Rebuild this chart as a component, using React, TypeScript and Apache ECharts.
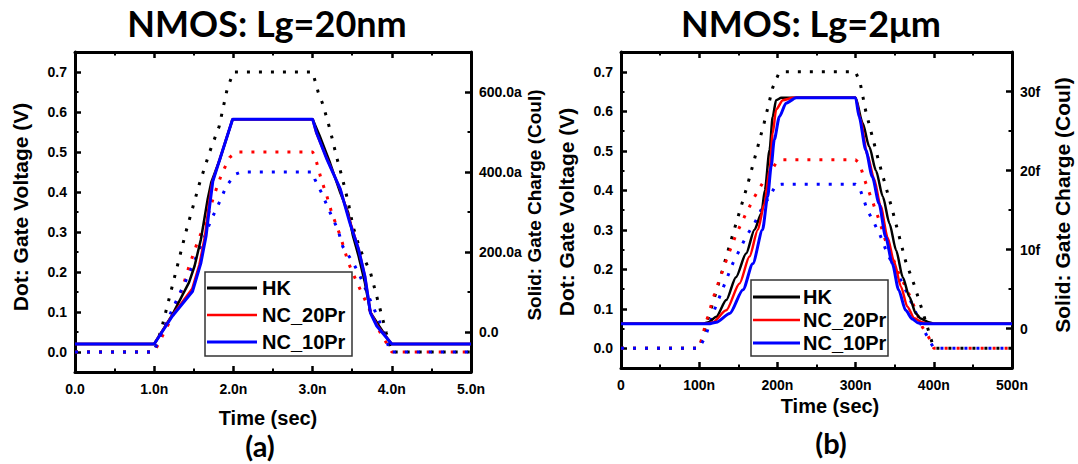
import React, { useEffect, useRef } from "react";
import * as echarts from "echarts";

// ---------- (a) NMOS Lg=20nm : time in ns ----------
const A_HK_V_t = [0, 1.0, 1.1, 1.4, 1.57, 1.7, 1.82, 1.92, 2.0, 3.0, 3.07, 3.13, 3.22, 3.3, 3.38, 3.45, 3.51, 3.6, 3.73, 3.83, 3.93, 4.0, 5.0];
const A_HK_V = [0, 0, 0.064, 0.3, 0.42, 0.5, 0.564, 0.656, 0.7, 0.7, 0.65, 0.619, 0.556, 0.49, 0.431, 0.374, 0.314, 0.256, 0.199, 0.124, 0.048, 0, 0];
const A_NC20_V_t = [0, 1.0, 1.23, 1.35, 1.44, 1.545, 1.66, 1.76, 1.85, 1.95, 2.04, 3.0, 3.03, 3.11, 3.18, 3.24, 3.35, 3.45, 3.56, 3.7, 3.85, 4.0, 5.0];
const A_NC20_V = [0, 0, 0.089, 0.156, 0.214, 0.274, 0.33, 0.394, 0.444, 0.486, 0.5, 0.5, 0.489, 0.431, 0.39, 0.349, 0.29, 0.224, 0.174, 0.114, 0.05, 0, 0];
const A_NC10_V_t = [0, 1.0, 1.04, 1.27, 1.45, 1.6, 1.72, 1.8, 1.91, 2.02, 2.1, 3.0, 3.03, 3.11, 3.24, 3.32, 3.38, 3.51, 3.6, 3.75, 3.9, 3.98, 5.0];
const A_NC10_V = [0, 0, 0.024, 0.124, 0.2, 0.27, 0.331, 0.364, 0.414, 0.444, 0.45, 0.45, 0.431, 0.399, 0.34, 0.306, 0.264, 0.224, 0.189, 0.12, 0.05, 0, 0];

const A_HK_Q_t = [0, 1.0, 1.22, 1.44, 1.51, 1.59, 1.675, 1.72, 1.83, 1.99, 3.0, 3.09, 3.22, 3.35, 3.45, 3.51, 3.58, 3.66, 3.73, 3.84, 3.99, 5.0];
const A_HK_Q = [-30, -30, 40, 124, 165, 232, 332, 374, 432, 532, 532, 490, 423, 348, 298, 240, 190, 124, 49, 15, -30, -30];
const A_NC20_Q_t = [0, 1.0, 1.23, 1.48, 1.57, 1.64, 1.69, 1.73, 1.99, 3.0, 3.05, 3.18, 3.35, 3.47, 3.58, 3.66, 3.73, 3.82, 4.0, 5.0];
const A_NC20_Q = [-30, -30, 42, 108, 168, 238, 318, 372, 532, 532, 496, 434, 356, 278, 208, 140, 50, 15, -30, -30];
const A_NC10_Q_t = [0, 1.0, 1.23, 1.485, 1.59, 1.655, 1.7, 1.74, 1.99, 3.0, 3.05, 3.18, 3.35, 3.47, 3.58, 3.66, 3.73, 3.81, 4.0, 5.0];
const A_NC10_Q = [-30, -30, 40, 102, 173, 240, 315, 377, 532, 532, 498, 432, 357, 273, 207, 140, 48, 15, -30, -30];

// ---------- (b) NMOS Lg=2um : time in ns ----------
const B_HK_V_t = [0, 100, 122, 141, 162, 183, 194, 202, 210, 300, 306, 313, 330, 347, 364, 375, 387, 400, 500];
const B_HK_V = [0, 0, 0.145, 0.275, 0.415, 0.57, 0.66, 0.697, 0.7, 0.7, 0.67, 0.6, 0.47, 0.35, 0.22, 0.16, 0.085, 0, 0];
const B_NC20_V_t = [0, 100, 108, 120, 137, 147, 160, 171, 181, 190, 198, 206, 300, 305, 313, 321, 330, 338, 347, 355, 366, 376, 385, 393, 400, 500];
const B_NC20_V = [0, 0, 0.06, 0.14, 0.236, 0.287, 0.342, 0.384, 0.418, 0.443, 0.468, 0.477, 0.477, 0.468, 0.418, 0.375, 0.325, 0.274, 0.232, 0.19, 0.148, 0.1, 0.055, 0.03, 0, 0];
const B_NC10_V_t = [0, 100, 108, 120, 134.6, 143, 151.6, 160, 170.7, 181, 190, 198, 205, 300, 304.5, 309, 315, 324, 332, 340.5, 349, 357.6, 366, 376, 386, 400, 500];
const B_NC10_V = [0, 0, 0.03, 0.1, 0.173, 0.215, 0.249, 0.283, 0.316, 0.358, 0.384, 0.413, 0.415, 0.415, 0.409, 0.384, 0.35, 0.316, 0.283, 0.24, 0.207, 0.173, 0.139, 0.095, 0.05, 0, 0];

const B_HK_Q_t = [0, 105, 112, 122, 134.6, 147, 160, 170.7, 179.6, 184, 190, 194, 198.3, 205, 300, 309, 317.5, 326, 334.8, 343.3, 351.8, 360.3, 368.8, 377, 383, 393.6, 400, 500];
const B_HK_Q = [0.6, 0.6, 0.8, 1.5, 3.6, 6.5, 9.5, 12.5, 14.6, 17.5, 22.6, 26.8, 28.9, 29.2, 29.2, 26, 23, 20, 16.7, 13.3, 9.9, 6.5, 4.0, 1.9, 1.27, 0.8, 0.6, 0.6];
const B_NC20_Q_t = [0, 110, 117.6, 134.6, 151.6, 164.3, 175, 183.4, 190, 194, 198.3, 207, 220, 300, 306, 315, 323.5, 332, 341, 349, 358, 366, 375, 385, 392, 500];
const B_NC20_Q = [0.6, 0.6, 0.8, 2.3, 5.7, 9.1, 12.5, 15.8, 20, 24.7, 27.7, 28.9, 29.2, 29.2, 26.5, 22, 19, 15.5, 11.5, 8.5, 5.3, 2.8, 1.3, 0.8, 0.6, 0.6];
const B_NC10_Q_t = [0, 112, 122, 139, 156, 168.5, 181, 187.6, 192, 196, 202.5, 211, 224, 300, 304.5, 313, 321.4, 330, 338.4, 347, 355, 364, 372.5, 380, 388, 500];
const B_NC10_Q = [0.6, 0.6, 0.8, 1.9, 4.9, 8.2, 12.5, 16.7, 20.5, 23.9, 26.8, 28.5, 29.2, 29.2, 26.8, 22.6, 19.2, 15.8, 11.6, 8.2, 4.9, 2.3, 1.2, 0.7, 0.6, 0.6];

// ---------- ticks ----------
const V_TICKS = [0, 0.1, 0.2, 0.3, 0.4, 0.5, 0.6, 0.7];
const V_MINOR = [0.05, 0.15, 0.25, 0.35, 0.45, 0.55, 0.65];
const QA_TICKS = [0, 200, 400, 600];
const QA_MINOR = [100, 300, 500];
const QB_TICKS = [0, 10, 20, 30];
const QB_MINOR = [5, 15, 25];

const NAMES = ["HK", "NC_20Pr", "NC_10Pr"];
const COLORS = ["#000000", "#ff0000", "#0000ff"];

const pairs = (t: number[], v: number[]) => t.map((x, i) => [x, v[i]]);

const FONT = "'Liberation Sans', Arial, sans-serif";
const TITLE_FONT = "Lato, 'Open Sans', sans-serif";

export default function App() {
  const ref = useRef<HTMLDivElement>(null);
  useEffect(() => {
    if (!ref.current) return;
    const chart = echarts.init(ref.current, undefined, { renderer: "svg" });

    const labelStyle = { fontSize: 14, fontWeight: "bold" as const, fontFamily: FONT, color: "#000" };
    const axisLine = { show: true, onZero: false, lineStyle: { color: "#000", width: 3 } };

    const xAxis = (grid: number, pos: "bottom" | "top", max: number, interval: number, fmt: (v: number) => string) => ({
      type: "value",
      gridIndex: grid,
      position: pos,
      min: 0,
      max,
      interval,
      axisLine,
      splitLine: { show: false },
      axisTick: { show: true, inside: true, length: 6, lineStyle: { color: "#000", width: 2.5 } },
      minorTick: { show: true, splitNumber: 2, length: 3.5, lineStyle: { color: "#000", width: 2 } },
      axisLabel: pos === "bottom" ? { ...labelStyle, margin: 10, formatter: fmt } : { show: false },
    });

    const yMajor = (grid: number, pos: "left" | "right", min: number, max: number, ticks: number[], fmt: (v: number) => string) => ({
      type: "value",
      gridIndex: grid,
      position: pos,
      min,
      max,
      axisLine,
      splitLine: { show: false },
      axisTick: { show: true, inside: true, length: 6, customValues: ticks, lineStyle: { color: "#000", width: 2.5 } },
      axisLabel: { ...labelStyle, margin: 8, customValues: ticks, formatter: fmt },
    });
    const yMinor = (grid: number, pos: "left" | "right", min: number, max: number, ticks: number[]) => ({
      type: "value",
      gridIndex: grid,
      position: pos,
      min,
      max,
      axisLine: { show: false, onZero: false },
      splitLine: { show: false },
      axisTick: { show: true, inside: true, length: 3.5, customValues: ticks, lineStyle: { color: "#000", width: 2 } },
      axisLabel: { show: false },
    });

    const dotted = (name: string, color: string, data: number[][], xi: number, yi: number) => ({
      type: "line",
      name: name + " (V)",
      xAxisIndex: xi,
      yAxisIndex: yi,
      data,
      showSymbol: false,
      symbol: "none",
      lineStyle: { color, width: 3, type: [3, 9], cap: "butt" },
      z: 2,
    });
    const solid = (name: string, color: string, data: number[][], xi: number, yi: number, w: number, smooth: number) => ({
      type: "line",
      name,
      xAxisIndex: xi,
      yAxisIndex: yi,
      data,
      showSymbol: false,
      symbol: "none",
      smooth,
      smoothMonotone: "x",
      lineStyle: { color, width: w },
      z: 3,
    });

    const legend = (x: number, y: number, w: number, h: number, rows: number[], lx0: number, lx1: number, tx: number) => [
      { type: "rect", z: 100, shape: { x, y, width: w, height: h }, style: { fill: "#fff", stroke: "#333", lineWidth: 1.5 } },
      ...NAMES.flatMap((n, i) => [
        { type: "line", z: 101, shape: { x1: lx0, y1: rows[i], x2: lx1, y2: rows[i] }, style: { stroke: COLORS[i], lineWidth: i === 1 ? 2.5 : 3 } },
        { type: "text", z: 101, x: tx, y: rows[i], style: { text: n, fill: "#000", font: `bold 20px ${FONT}`, textAlign: "left", textVerticalAlign: "middle" } },
      ]),
    ];

    const txt = (text: string, x: number, y: number, font: string, rot = 0) => ({
      type: "text",
      z: 100,
      x,
      y,
      rotation: rot,
      style: { text, fill: "#000", font, textAlign: "center", textVerticalAlign: "middle" },
    });

    const fmtV = (v: number) => v.toFixed(1);
    const fmtA = (v: number) => (v === 0 ? "0.0" : v.toFixed(1) + "a");
    const fmtF = (v: number) => (v === 0 ? "0" : v + "f");
    const fmtTA = (v: number) => (v === 0 ? "0.0" : v.toFixed(1) + "n");
    const fmtTB = (v: number) => (v === 0 ? "0" : v + "n");

    chart.setOption({
      animation: false,
      backgroundColor: "#fff",
      grid: [
        { left: 75, top: 52, width: 396, height: 320, outerBoundsMode: "none", containLabel: false },
        { left: 621, top: 52, width: 391, height: 316, outerBoundsMode: "none", containLabel: false },
      ],
      xAxis: [
        xAxis(0, "bottom", 5, 1, fmtTA),
        xAxis(0, "top", 5, 1, fmtTA),
        xAxis(1, "bottom", 500, 100, fmtTB),
        xAxis(1, "top", 500, 100, fmtTB),
      ],
      yAxis: [
        yMajor(0, "left", -0.05, 0.75, V_TICKS, fmtV),
        yMajor(0, "right", -100, 700, QA_TICKS, fmtA),
        yMinor(0, "left", -0.05, 0.75, V_MINOR),
        yMinor(0, "right", -100, 700, QA_MINOR),
        yMajor(1, "left", -0.05, 0.75, V_TICKS, fmtV),
        yMajor(1, "right", -5, 35, QB_TICKS, fmtF),
        yMinor(1, "left", -0.05, 0.75, V_MINOR),
        yMinor(1, "right", -5, 35, QB_MINOR),
      ],
      series: [
        dotted("HK", COLORS[0], pairs(A_HK_V_t, A_HK_V), 0, 0),
        dotted("NC_20Pr", COLORS[1], pairs(A_NC20_V_t, A_NC20_V), 0, 0),
        dotted("NC_10Pr", COLORS[2], pairs(A_NC10_V_t, A_NC10_V), 0, 0),
        solid("HK", COLORS[0], pairs(A_HK_Q_t, A_HK_Q), 0, 1, 2.5, 0),
        solid("NC_20Pr", COLORS[1], pairs(A_NC20_Q_t, A_NC20_Q), 0, 1, 2.5, 0),
        solid("NC_10Pr", COLORS[2], pairs(A_NC10_Q_t, A_NC10_Q), 0, 1, 3, 0),
        dotted("HK", COLORS[0], pairs(B_HK_V_t, B_HK_V), 2, 4),
        dotted("NC_20Pr", COLORS[1], pairs(B_NC20_V_t, B_NC20_V), 2, 4),
        dotted("NC_10Pr", COLORS[2], pairs(B_NC10_V_t, B_NC10_V), 2, 4),
        solid("HK", COLORS[0], pairs(B_HK_Q_t, B_HK_Q), 2, 5, 2.5, 0.25),
        solid("NC_20Pr", COLORS[1], pairs(B_NC20_Q_t, B_NC20_Q), 2, 5, 2.5, 0.25),
        solid("NC_10Pr", COLORS[2], pairs(B_NC10_Q_t, B_NC10_Q), 2, 5, 3, 0.25),
      ],
      graphic: [
        txt("NMOS: Lg=20nm", 267, 23, `bold 36px ${TITLE_FONT}`),
        txt("NMOS: Lg=2μm", 811, 23, `bold 36px ${TITLE_FONT}`),
        txt("Time (sec)", 268, 418, `bold 20px ${FONT}`),
        txt("Time (sec)", 830, 406, `bold 20px ${FONT}`),
        txt("(a)", 260, 445, `bold 29px ${TITLE_FONT}`),
        txt("(b)", 831, 442, `bold 29px ${TITLE_FONT}`),
        txt("Dot: Gate Voltage (V)", 20, 207, `bold 21px ${FONT}`, Math.PI / 2),
        txt("Solid: Gate Charge (Coul)", 534, 205, `bold 19px ${FONT}`, Math.PI / 2),
        txt("Dot: Gate Voltage (V)", 566, 212, `bold 21px ${FONT}`, Math.PI / 2),
        txt("Solid: Gate Charge (Coul)", 1062, 205, `bold 21px ${FONT}`, Math.PI / 2),
        ...legend(205, 272, 147, 84, [288, 315, 342], 207, 257, 262),
        ...legend(751, 280, 137, 76, [297, 320, 343], 753, 800, 803),
      ],
    });
    return () => chart.dispose();
  }, []);
  return <div ref={ref} style={{ position: "absolute", left: 0, top: 0, width: 1078, height: 464 }} />;
}
